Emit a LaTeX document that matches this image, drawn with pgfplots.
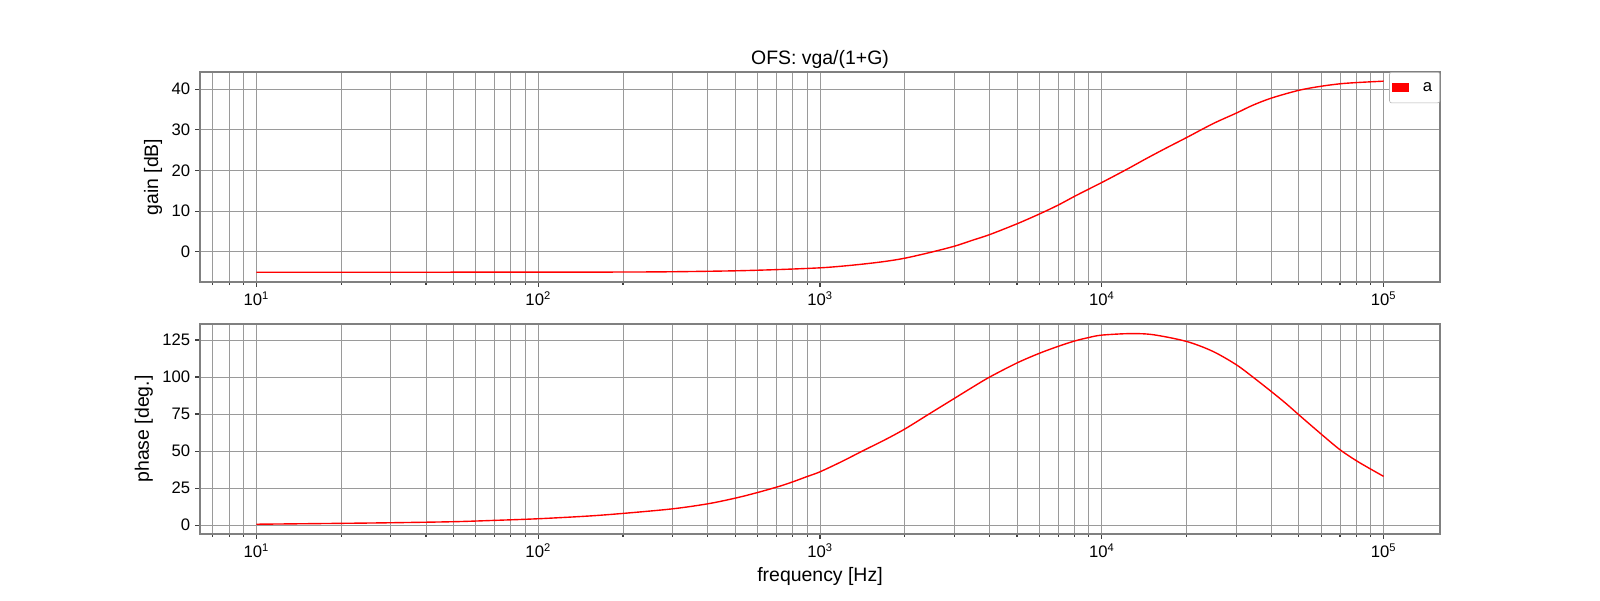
\documentclass[border=0pt]{standalone}
\usepackage{fontspec}
\setmainfont{Liberation Sans}
\usepackage{pgfplots}
\pgfplotsset{compat=1.18}
\definecolor{gridgray}{HTML}{9A9A9A}
\definecolor{framegray}{HTML}{808080}
\begin{document}
\begin{tikzpicture}
\path[use as bounding box] (0,0) rectangle (1152pt,432pt);
\begin{axis}[anchor=south west, at={(144pt,228.96pt)},
    xmode=log, xmin=6.30957, xmax=158489.3,
    scale only axis, width=892.8pt, height=151.2pt,
    grid=both,
    major grid style={gridgray, line width=0.7pt},
    minor grid style={gridgray, line width=0.7pt},
    axis line style={framegray, line width=0.8pt},
    tick style={black!75, line width=0.8pt},
    tick align=outside, major tick length=3.5pt, minor tick length=2pt,
    xtick pos=left, ytick pos=left,
    ticklabel style={font=\fontsize{12}{14}\selectfont},
    label style={font=\fontsize{14}{17}\selectfont},
    xtick={10,100,1000,10000,100000},
    xticklabels={10\textsuperscript{1},10\textsuperscript{2},10\textsuperscript{3},10\textsuperscript{4},10\textsuperscript{5}},
    minor xtick={7,8,9,20,30,40,50,60,70,80,90,200,300,400,500,600,700,800,900,2000,3000,4000,5000,6000,7000,8000,9000,20000,30000,40000,50000,60000,70000,80000,90000},
  ymin=-7.4, ymax=44.2, ytick={0,10,20,30,40},
  ylabel={gain [dB]},
  title={OFS: vga/(1+G)},
  title style={font=\fontsize{14}{17}\selectfont, at={(0.5,1)}, anchor=south, yshift=-7pt},
  legend style={at={(1,1)}, anchor=north east, draw=gray!60, rounded corners=1.5pt,
    font=\fontsize{12}{14}\selectfont, inner xsep=1.5pt, inner ysep=1.5pt,
    nodes={inner xsep=4pt, inner ysep=4pt, text height=8.5pt, text depth=2.5pt},
    /tikz/column sep=6pt},
  legend image code/.code={\fill[red, sharp corners] (0pt,-2.6pt) rectangle (11.5pt,2.6pt);},
  /pgf/number format/assume math mode=true,
]
\addplot[red, line width=1pt, smooth] coordinates {
(10,-5.0) (20,-5.0) (50,-4.99) (100,-4.98) (200,-4.95) (300,-4.88) (500,-4.65)
(720,-4.33) (1000,-3.92) (1200,-3.5) (1420,-3.0) (1700,-2.35) (2000,-1.55)
(2455,-0.15) (3000,1.4) (3490,2.9) (4000,4.25) (5000,6.9) (6000,9.3)
(7000,11.5) (8000,13.65) (9000,15.45) (10000,17.05) (12200,20.2) (14360,22.9)
(16900,25.5) (20000,28.1) (24790,31.5) (30000,34.1) (34240,36.0) (40000,37.8)
(50000,39.7) (60000,40.7) (70000,41.3) (80000,41.6) (100000,41.95)
};
\addlegendentry{a}
\end{axis}
\begin{axis}[anchor=south west, at={(144pt,47.52pt)},
    xmode=log, xmin=6.30957, xmax=158489.3,
    scale only axis, width=892.8pt, height=151.2pt,
    grid=both,
    major grid style={gridgray, line width=0.7pt},
    minor grid style={gridgray, line width=0.7pt},
    axis line style={framegray, line width=0.8pt},
    tick style={black!75, line width=0.8pt},
    tick align=outside, major tick length=3.5pt, minor tick length=2pt,
    xtick pos=left, ytick pos=left,
    ticklabel style={font=\fontsize{12}{14}\selectfont},
    label style={font=\fontsize{14}{17}\selectfont},
    xtick={10,100,1000,10000,100000},
    xticklabels={10\textsuperscript{1},10\textsuperscript{2},10\textsuperscript{3},10\textsuperscript{4},10\textsuperscript{5}},
    minor xtick={7,8,9,20,30,40,50,60,70,80,90,200,300,400,500,600,700,800,900,2000,3000,4000,5000,6000,7000,8000,9000,20000,30000,40000,50000,60000,70000,80000,90000},
  ymin=-6, ymax=135.8, ytick={0,25,50,75,100,125},
  ylabel={phase [deg.]}, xlabel={frequency [Hz]},
  /pgf/number format/assume math mode=true,
]
\addplot[red, line width=1pt, smooth] coordinates {
(10,0.6) (20,1.2) (30,1.6) (50,2.3) (70,3.2) (100,4.3) (150,6.1) (200,7.9)
(300,11.0) (400,14.4) (500,18.2) (600,22.0) (720,26.3) (800,29.2) (900,32.8)
(1000,36.0) (1200,43.1) (1420,50.2) (1700,57.6) (2000,64.9) (2455,75.4)
(3000,85.6) (3490,93.3) (4000,100.0) (5000,109.5) (6000,116.0) (7000,120.7)
(8000,124.3) (9000,126.7) (10000,128.3) (12540,129.3) (15180,128.6)
(20000,124.0) (24790,117.3) (30000,108.3) (34240,100.2) (40000,90.1)
(45100,82.0) (50000,74.5) (60000,61.5) (70000,50.9) (80000,43.5)
(90000,37.8) (100000,32.9)
};
\end{axis}
\end{tikzpicture}
\end{document}
